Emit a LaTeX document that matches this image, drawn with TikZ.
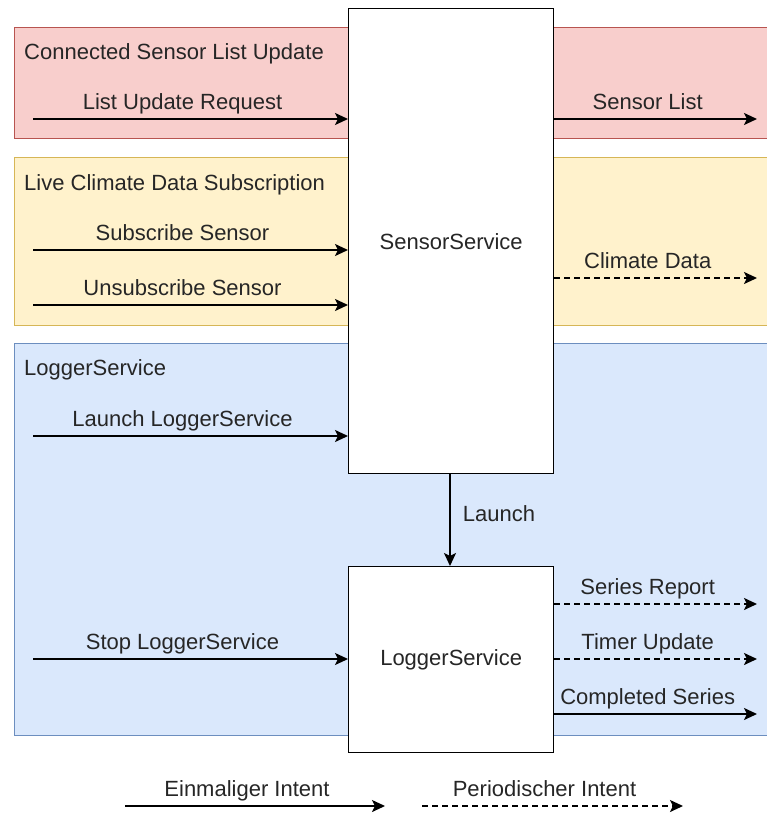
\documentclass[tikz,border=0pt]{standalone}
\usepackage{fontspec}
\setmainfont{Liberation Sans}
\usetikzlibrary{arrows.meta}
\definecolor{redfill}{HTML}{F8CECC}
\definecolor{redline}{HTML}{B85450}
\definecolor{yelfill}{HTML}{FFF2CC}
\definecolor{yelline}{HTML}{D6B656}
\definecolor{bluefill}{HTML}{DAE8FC}
\definecolor{blueline}{HTML}{6C8EBF}
\definecolor{txt}{HTML}{262626}
\begin{document}
\begin{tikzpicture}[x=1pt, y=-1pt,
  font=\fontsize{22}{26}\selectfont,
  group/.style={line width=1.2pt, anchor=north west, minimum width=770pt, inner sep=0pt},
  grptitle/.style={anchor=base west, text=txt, inner sep=0pt},
  svc/.style={draw=black, fill=white, line width=1.4pt, anchor=north west,
              minimum width=205pt, inner sep=0pt, text=txt},
  flow/.style={line width=1.9pt, -{Stealth[length=13pt, width=12pt, inset=3pt]}},
  periodic/.style={flow, dash pattern=on 6pt off 4pt},
  lbl/.style={midway, anchor=base, yshift=10pt, xshift=-8pt, inner sep=0pt, text=txt}
]
\useasboundingbox (0,0) rectangle (767,814);

% swimlane groups
\node[group, fill=redfill, draw=redline, minimum height=111pt] (grpList) at (14,27) {};
\node[group, fill=yelfill, draw=yelline, minimum height=168pt] (grpLive) at (14,157) {};
\node[group, fill=bluefill, draw=blueline, minimum height=392pt] (grpLog) at (14,343) {};

\node[grptitle] (tList) at (24,59) {Connected Sensor List Update};
\node[grptitle] (tLive) at (24,190) {Live Climate Data Subscription};
\node[grptitle] (tLog) at (24,375) {LoggerService};

% services
\node[svc, minimum height=465pt] (ss) at (348,8) {SensorService};
\node[svc, minimum height=186pt] (ls) at (348,566) {LoggerService};

% free ends of the intents
\coordinate (inList) at (33,119);
\coordinate (inSub) at (33,250);
\coordinate (inUnsub) at (33,305);
\coordinate (inLaunch) at (33,436);
\coordinate (inStop) at (33,659);
\coordinate (outList) at (757,119);
\coordinate (outClimate) at (757,278);
\coordinate (outReport) at (757,604);
\coordinate (outTimer) at (757,659);
\coordinate (outDone) at (757,714);

% incoming intents
\draw[flow] (inList) -- (inList -| ss.west) node[lbl] {List Update Request};
\draw[flow] (inSub) -- (inSub -| ss.west) node[lbl] {Subscribe Sensor};
\draw[flow] (inUnsub) -- (inUnsub -| ss.west) node[lbl] {Unsubscribe Sensor};
\draw[flow] (inLaunch) -- (inLaunch -| ss.west) node[lbl] {Launch LoggerService};
\draw[flow] (inStop) -- (inStop -| ls.west) node[lbl] {Stop LoggerService};

% outgoing intents
\draw[flow] (outList -| ss.east) -- (outList) node[lbl] {Sensor List};
\draw[periodic] (outClimate -| ss.east) -- (outClimate) node[lbl] {Climate Data};
\draw[periodic] (outReport -| ls.east) -- (outReport) node[lbl] {Series Report};
\draw[periodic] (outTimer -| ls.east) -- (outTimer) node[lbl] {Timer Update};
\draw[flow] (outDone -| ls.east) -- (outDone) node[lbl] {Completed Series};

% launch of the logger
\draw[flow] (ss.south -| 450,0) -- (ls.north -| 450,0)
  node[midway, anchor=base west, xshift=12pt, yshift=-1pt, inner sep=0pt, text=txt] {Launch};

% legend
\coordinate (lgOnce1) at (125,806);
\coordinate (lgOnce2) at (385,806);
\coordinate (lgPer1) at (422,806);
\coordinate (lgPer2) at (683,806);
\draw[flow] (lgOnce1) -- (lgOnce2) node[lbl] {Einmaliger Intent};
\draw[periodic] (lgPer1) -- (lgPer2) node[lbl] {Periodischer Intent};
\end{tikzpicture}
\end{document}
